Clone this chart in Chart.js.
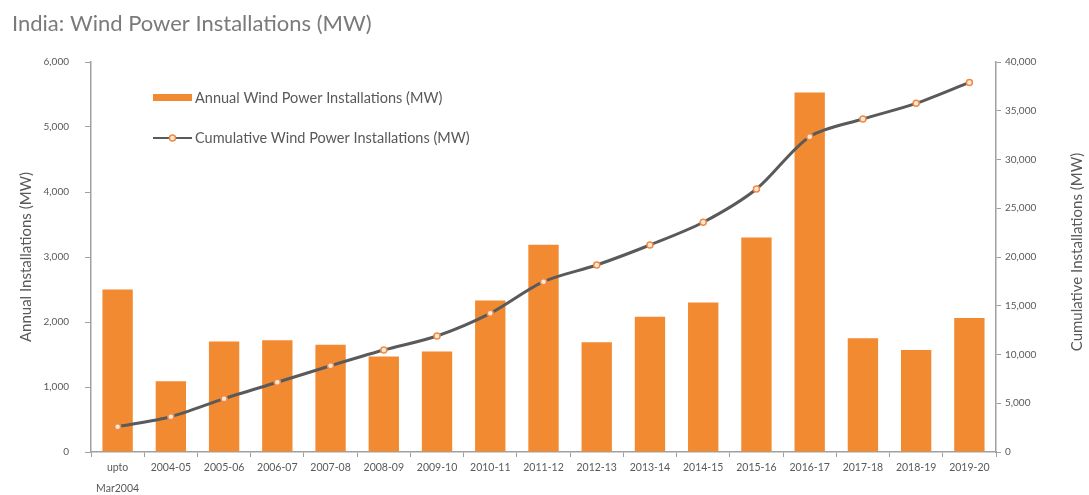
<!DOCTYPE html>
<html>
<head>
<meta charset="utf-8">
<script src="https://cdn.jsdelivr.net/npm/chart.js@4.4.0/dist/chart.umd.min.js"></script>
<style>
  html, body { margin: 0; padding: 0; background: #fff; }
  #wrap { width: 1089px; height: 495px; }
</style>
</head>
<body>
<div id="wrap"><canvas id="wind_chart" width="1089" height="495"></canvas></div>
<script>
const categories = [["upto", "Mar2004"], "2004-05", "2005-06", "2006-07", "2007-08", "2008-09", "2009-10",
  "2010-11", "2011-12", "2012-13", "2013-14", "2014-15", "2015-16", "2016-17", "2017-18", "2018-19", "2019-20"];
const annualMW = [2500, 1090, 1700, 1720, 1650, 1470, 1545, 2330, 3190, 1690, 2080, 2300, 3300, 5530, 1750, 1570, 2060];
const cumulativeMW = [2600, 3620, 5470, 7150, 8850, 10460, 11900, 14220, 17470, 19180, 21230, 23560, 26970, 32340, 34150, 35760, 37910];
const leftTicks = [0, 1000, 2000, 3000, 4000, 5000, 6000];
const rightTicks = [0, 5000, 10000, 15000, 20000, 25000, 30000, 35000, 40000];

const FONT = "Lato, 'Open Sans', sans-serif";
const textGray = "#595959";
const axisGray = "#a0a0a0";
const orange = "#F18A31";

// legend inside the plot + right axis title reading bottom-to-top
const overlay = {
  id: "overlay",
  afterDraw(chart) {
    const ctx = chart.ctx;
    const ds = chart.data.datasets;
    ctx.save();
    ctx.font = "14.5px " + FONT;
    ctx.textBaseline = "middle";
    // bar entry
    ctx.fillStyle = ds[0].backgroundColor;
    ctx.fillRect(153, 94, 39, 7);
    ctx.fillStyle = textGray;
    ctx.fillText(ds[0].label, 195, 98);
    // line entry
    ctx.strokeStyle = ds[1].borderColor;
    ctx.lineWidth = 2;
    ctx.beginPath();
    ctx.moveTo(153, 138);
    ctx.lineTo(192, 138);
    ctx.stroke();
    ctx.beginPath();
    ctx.arc(172.5, 138, 3, 0, Math.PI * 2);
    ctx.fillStyle = ds[1].pointBackgroundColor;
    ctx.fill();
    ctx.lineWidth = 1.5;
    ctx.strokeStyle = ds[1].pointBorderColor;
    ctx.stroke();
    ctx.fillStyle = textGray;
    ctx.fillText(ds[1].label, 195, 138);
    // right axis title
    ctx.translate(1077, 252);
    ctx.rotate(-Math.PI / 2);
    ctx.textAlign = "center";
    ctx.font = "15px " + FONT;
    ctx.fillText("Cumulative Installations (MW)", 0, 0);
    ctx.restore();
  }
};

const fmt = v => Number(v).toLocaleString("en-US");

const chart = new Chart(document.getElementById("wind_chart"), {
  type: "bar",
  data: {
    labels: categories,
    datasets: [{
      type: "bar",
      label: "Annual Wind Power Installations (MW)",
      data: annualMW,
      backgroundColor: orange,
      yAxisID: "y",
      categoryPercentage: 1,
      barPercentage: 0.57,
      order: 1,
    }, {
      type: "line",
      label: "Cumulative Wind Power Installations (MW)",
      data: cumulativeMW,
      borderColor: "#5a5a5a",
      borderWidth: 3,
      tension: 0.3,
      pointRadius: 3,
      pointBackgroundColor: "#fde9da",
      pointBorderColor: "#F08A44",
      pointBorderWidth: 1.5,
      yAxisID: "y1",
      order: 0,
    }]
  },
  options: {
    responsive: false,
    animation: false,
    layout: { padding: { left: 12, right: 0, top: 0, bottom: 0 } },
    plugins: {
      legend: { display: false },
      tooltip: { enabled: false },
      title: {
        display: true,
        text: "India: Wind Power Installations (MW)",
        align: "start",
        color: "#7a7a7a",
        font: { family: FONT, size: 22, weight: "normal" },
        padding: { top: 11, bottom: 24.6 },
      },
    },
    scales: {
      x: {
        grid: { offset: true, drawOnChartArea: false, drawTicks: true, tickLength: 5, color: axisGray },
        border: { display: true, color: axisGray, width: 1.5 },
        ticks: { color: textGray, font: { family: FONT, size: 10.5, lineHeight: 21 / 10.5 }, padding: 0, maxRotation: 0, autoSkip: false },
        afterFit: s => { s.height = 43; },
      },
      y: {
        type: "linear",
        position: "left",
        min: 0,
        max: 6000,
        afterBuildTicks: s => { s.ticks = leftTicks.map(v => ({ value: v })); },
        grid: { drawOnChartArea: false, drawTicks: true, tickLength: 6, color: axisGray },
        border: { display: true, color: axisGray, width: 1.5 },
        ticks: { color: textGray, font: { family: FONT, size: 10 }, padding: 16, callback: fmt },
        title: { display: true, text: "Annual Installations (MW)", color: textGray, font: { family: FONT, size: 15 }, padding: { top: 5, bottom: 0 } },
        afterFit: s => { s.width = 79; },
      },
      y1: {
        type: "linear",
        position: "right",
        min: 0,
        max: 40000,
        afterBuildTicks: s => { s.ticks = rightTicks.map(v => ({ value: v })); },
        grid: { drawOnChartArea: false, drawTicks: true, tickLength: 5, color: axisGray },
        border: { display: true, color: axisGray, width: 1.5 },
        ticks: { color: textGray, font: { family: FONT, size: 10 }, padding: 4, callback: fmt },
        afterFit: s => { s.width = 93; },
      }
    }
  },
  plugins: [overlay]
});
</script>
</body>
</html>
